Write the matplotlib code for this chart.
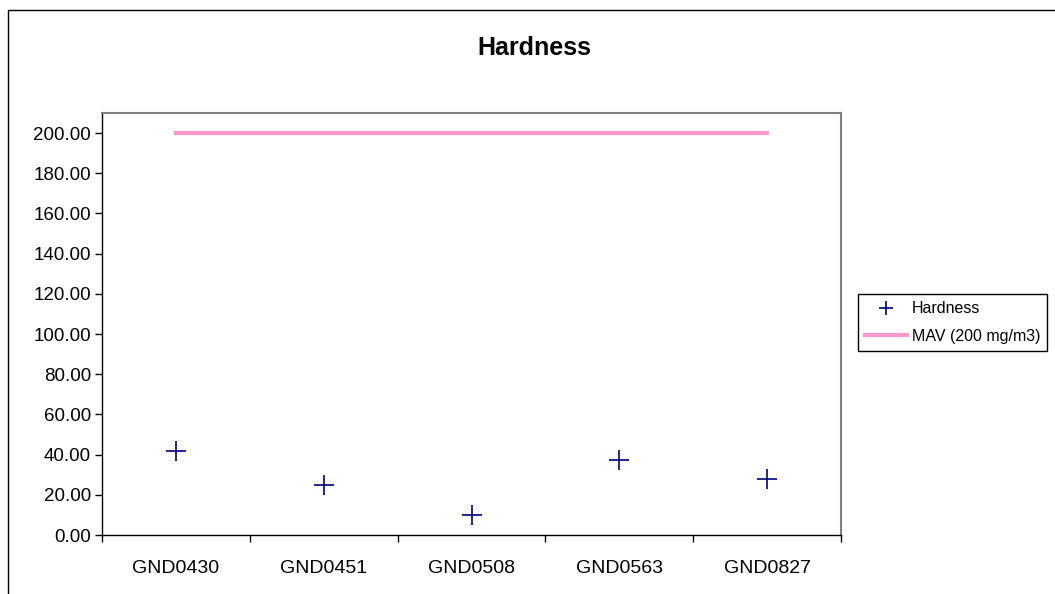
import matplotlib
matplotlib.use('Agg')
import matplotlib.pyplot as plt
from matplotlib.patches import Rectangle
import numpy as np

# Data #
sites    = ['GND0430', 'GND0451', 'GND0508', 'GND0563', 'GND0827']
hardness = [42.0, 25.0, 10.0, 37.3, 27.8]
mav      = [200, 200, 200, 200, 200]
y_ticks  = np.arange(0, 201, 20)

plt.rcParams['font.family'] = ['Liberation Sans', 'DejaVu Sans']

# Figure #
fig = plt.figure(figsize=(10.55, 5.94), dpi=100)
W, H = 1055, 594
ax = fig.add_axes([102/W, 1 - 535/H, (841-102)/W, (535-113)/H])

# Outer chart border #
fig.patches.append(Rectangle((8/W, -0.1), 1.2, 1.1 - 10/H, transform=fig.transFigure,
                             fill=False, edgecolor='black', linewidth=1.0))

x = np.arange(len(sites))
ax.plot(x, hardness, linestyle='none', marker='+', color='#000080',
        markersize=14, markeredgewidth=1.2, label='Hardness')
ax.plot(x, mav, color='#FF99CC', linewidth=3, label='MAV (200 mg/m3)')

# Axes limits and ticks #
ax.set_xlim(-0.5, len(sites) - 0.5)
ax.set_ylim(0, 210)
ax.set_yticks(y_ticks)
ax.set_yticklabels(['%.2f' % v for v in y_ticks], fontsize=13.5)
ax.set_xticks(np.arange(-0.5, len(sites)))
ax.set_xticklabels([])
ax.set_xticks(x, minor=True)
ax.set_xticklabels(sites, minor=True, fontsize=14)
ax.tick_params(axis='x', which='major', direction='out', length=5, width=1)
ax.tick_params(axis='x', which='minor', length=0, pad=18)
ax.tick_params(axis='y', direction='out', length=5, width=1, pad=3)

# Frame #
for side in ('top', 'right'):
    ax.spines[side].set_color('#808080')
    ax.spines[side].set_linewidth(1.5)
for side in ('left', 'bottom'):
    ax.spines[side].set_color('black')
    ax.spines[side].set_linewidth(1.0)

# Title #
fig.text(534/W, 1 - 48/H, 'Hardness', ha='center', va='center',
         fontsize=18, fontweight='bold')

# Legend #
leg = fig.legend(loc='upper left', bbox_to_anchor=(858/W, 1 - 294/H),
                 fontsize=11.5, fancybox=False, edgecolor='black', framealpha=1,
                 handlelength=2.6, handletextpad=0.3, borderpad=0.45,
                 labelspacing=0.8, borderaxespad=0, markerscale=0.7)
leg.get_frame().set_linewidth(1.0)

fig.savefig('out.png', dpi=100)
